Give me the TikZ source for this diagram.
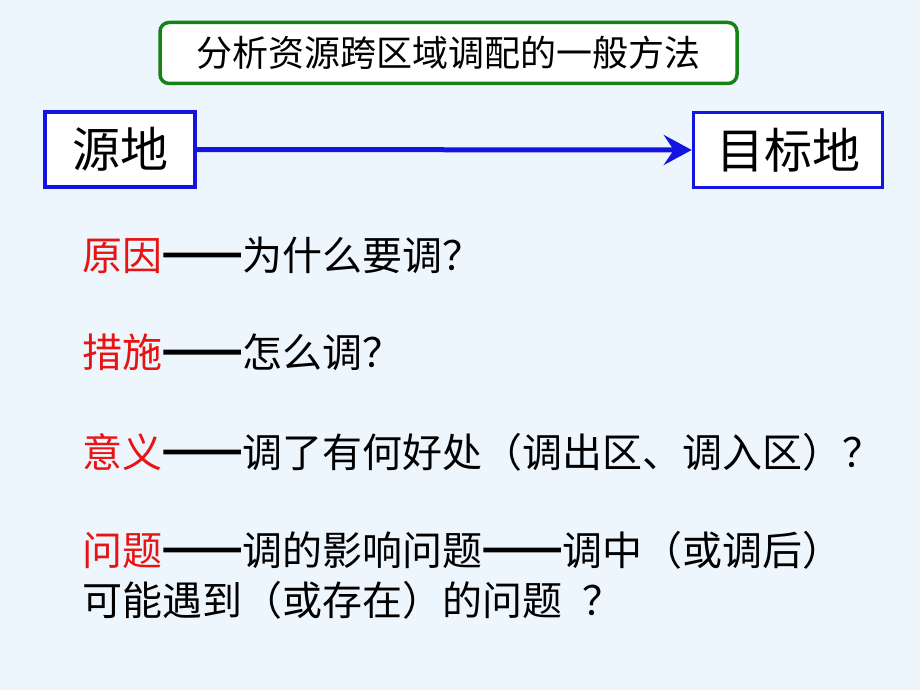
\documentclass[tikz,border=0pt]{standalone}
\usepackage{fontspec}
\newfontfamily\cjk{Noto Sans CJK SC}
\newfontfamily\cjkfw[RawFeature=+fwid]{Noto Sans CJK SC}
\newfontfamily\cjkdash[RawFeature=+fwid, FakeBold=8]{Noto Sans CJK SC}
\usetikzlibrary{arrows.meta}
\definecolor{bg}{RGB}{238,246,253}
\definecolor{tgreen}{RGB}{20,130,20}
\definecolor{bblue}{RGB}{20,20,225}
\definecolor{kred}{RGB}{232,20,20}
\newcommand{\ldash}{{\cjkdash ——}}
\tikzset{
  titlebox/.style={draw=tgreen, line width=3.5pt, rounded corners=9pt, fill=white, minimum width=577pt, minimum height=61pt},
  placebox/.style={draw=bblue, line width=3.5pt, fill=white, minimum height=75pt, font=\cjk\fontsize{48pt}{52pt}\selectfont, inner sep=0pt},
  line/.style={anchor=west, inner sep=0pt, font=\cjkfw\fontsize{40pt}{44pt}\selectfont}
}
\begin{document}
\begin{tikzpicture}[x=1pt,y=-1pt]
\useasboundingbox[fill=bg] (0,0) rectangle (920,690);
\node[titlebox] (tbox) at (448.5,53) {};
\node[font=\cjk\fontsize{36pt}{40pt}\selectfont, inner sep=0pt] (title) at (448.5,53) {分析资源跨区域调配的一般方法};
\node[placebox, minimum width=150pt] (src) at (120,149.5) {源地};
\node[placebox, minimum width=189pt] (dst) at (788,150) {目标地};
\draw[bblue, line width=5pt, -{Stealth[length=28pt,width=30pt,inset=10pt]}] (src.east) -- (dst.west);
\node[line] (l1) at (82,255) {\textcolor{kred}{原因}\ldash 为什么要调？};
\node[line] (l2) at (82,352) {\textcolor{kred}{措施}\ldash 怎么调？};
\node[line] (l3) at (82,452) {\textcolor{kred}{意义}\ldash 调了有何好处（调出区、调入区）？};
\node[line] (l4) at (82,550) {\textcolor{kred}{问题}\ldash 调的影响问题\ldash 调中（或调后）};
\node[line] (l5) at (82,600) {可能遇到（或存在）的问题\hspace{20pt}？};
\end{tikzpicture}
\end{document}
